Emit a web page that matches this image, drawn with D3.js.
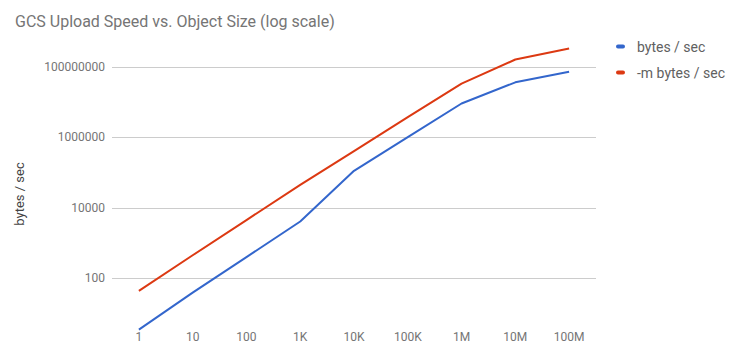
<!DOCTYPE html>
<html>
<head>
<meta charset="utf-8">
<script src="https://cdn.jsdelivr.net/npm/d3@7"></script>
<style>
  html, body { margin: 0; padding: 0; background: #fff; }
  text { font-family: Roboto, "Noto Sans", Arial, sans-serif; }
</style>
</head>
<body>
<svg id="chart" width="735" height="355"></svg>
<script>
const categories = ["1", "10", "100", "1K", "10K", "100K", "1M", "10M", "100M"];
const bytesPerSec = [3.4, 38, 390, 4000, 110000, 1000000, 9000000, 36000000, 72000000];
const mBytesPerSec = [43, 440, 4400, 44000, 400000, 3700000, 33000000, 160000000, 330000000];
const yTicks = [100, 10000, 1000000, 100000000];
const seriesNames = ["bytes / sec", "-m bytes / sec"];
const seriesColors = ["#3366cc", "#dc3912"];

const svg = d3.select("#chart");
const left = 112, right = 596;

const x = d3.scaleBand().domain(categories).range([left, right]);
const y = d3.scaleLog().domain([1, 1e9]).range([348.3, 31.5]);

// title
svg.append("text").attr("x", 15).attr("y", 27)
  .attr("font-size", 16).attr("fill", "#757575")
  .text("GCS Upload Speed vs. Object Size (log scale)");

// gridlines + y labels
const yAxis = d3.axisLeft(y).tickValues(yTicks).tickFormat(d3.format("d")).tickSize(0).tickPadding(7);
const gy = svg.append("g").attr("transform", `translate(${left},0)`).call(yAxis);
gy.select(".domain").remove();
gy.selectAll("text").attr("font-size", 12).attr("fill", "#757575").attr("font-family", "Roboto, sans-serif");
svg.append("g").selectAll("line").data(yTicks).join("line")
  .attr("x1", left).attr("x2", right)
  .attr("y1", d => Math.round(y(d)) + 0.5).attr("y2", d => Math.round(y(d)) + 0.5)
  .attr("stroke", "#cccccc").attr("stroke-width", 1);

// x labels
const xAxis = d3.axisBottom(x).tickSize(0).tickPadding(0);
const gx = svg.append("g").attr("transform", `translate(0,332)`).call(xAxis);
gx.select(".domain").remove();
gx.selectAll("text").attr("font-size", 12).attr("fill", "#757575").attr("dy", "0.71em").attr("font-family", "Roboto, sans-serif");

// y title
svg.append("text")
  .attr("transform", "translate(24,194) rotate(-90)")
  .attr("text-anchor", "middle").attr("font-size", 13).attr("fill", "#444")
  .text("bytes / sec");

// lines
const line = d3.line()
  .x((d, i) => x(categories[i]) + x.bandwidth() / 2)
  .y(d => y(d));
[bytesPerSec, mBytesPerSec].forEach((s, i) => {
  svg.append("path").datum(s).attr("d", line)
    .attr("fill", "none").attr("stroke", seriesColors[i]).attr("stroke-width", 2)
    .attr("stroke-linejoin", "round");
});

// legend
const lg = svg.append("g");
seriesNames.forEach((n, i) => {
  const yy = 46.5 + i * 26;
  lg.append("rect").attr("x", 616).attr("y", yy - 2).attr("width", 9).attr("height", 4)
    .attr("rx", 2).attr("fill", seriesColors[i]);
  lg.append("text").attr("x", 637).attr("y", yy + 5).attr("font-size", 14)
    .attr("fill", "#616161").text(n);
});
</script>
</body>
</html>
